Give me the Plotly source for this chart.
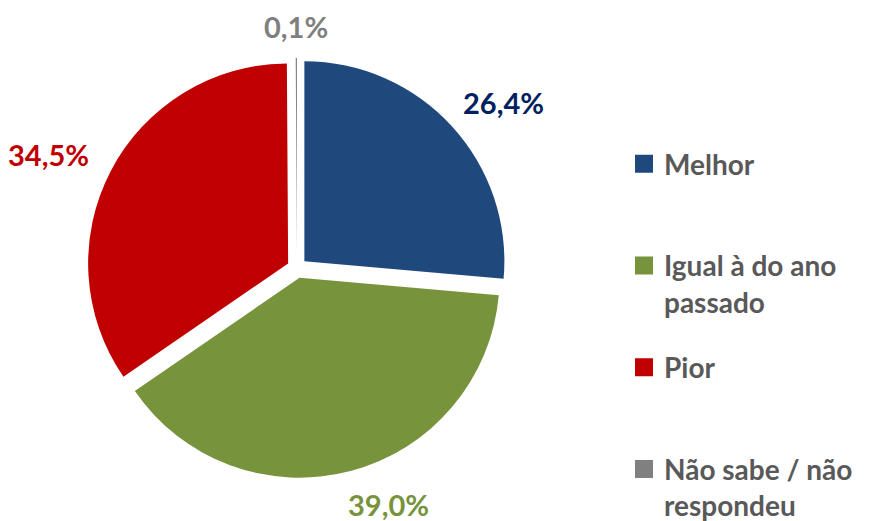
import math

import plotly.graph_objects as go

# data
labels = ["Melhor", "Igual à do ano passado", "Pior", "Não sabe / não respondeu"]
legend_names = ["Melhor<br> ", "Igual à do ano<br>passado", "Pior<br> ", "Não sabe / não<br>respondeu"]
values = [26.4, 39.0, 34.5, 0.1]
text_labels = ["26,4%", "39,0%", "34,5%", "0,1%"]

slice_colors = ["#1F497D", "#77933C", "#C00000", "#808080"]
label_colors = ["#002060", "#77933C", "#C00000", "#7F7F7F"]

# the page body has an 8px margin, so the figure is made 8px smaller
# and every screen position is taken relative to (8, 8)
OFF = 8
W, H = 870 - OFF, 521 - OFF


def to_paper(sx, sy):
    return (sx - OFF) / W, 1 - (sy - OFF) / H


cx, cy = 297, 268       # pie centre on screen
R = 200                 # pie radius in pixels
pull = 0.05
half = R * (1 + pull)
lab_rx, lab_ry = 280, 245      # label ellipse around the centre
lab_dx = [0, 20, 0, 0]         # small nudges, px
lab_dy = [0, 0, 0, 3]

font_family = "Lato, 'Open Sans', sans-serif"

fig = go.Figure()

x0, y1 = to_paper(cx - half, cy - half)
x1, y0 = to_paper(cx + half, cy + half)
fig.add_trace(go.Pie(
    labels=labels,
    values=values,
    sort=False,
    direction="clockwise",
    rotation=0,
    pull=[pull] * len(values),
    marker=dict(colors=slice_colors),
    textinfo="none",
    hoverinfo="label+percent",
    showlegend=False,
    domain=dict(x=[x0, x1], y=[y0, y1]),
))

# legend entries as dummy traces so the spacing can be controlled
for i, (name, c) in enumerate(zip(legend_names, slice_colors)):
    fig.add_trace(go.Scatter(
        x=[None], y=[None], mode="markers", name=name,
        legendgroup=str(i),
        marker=dict(symbol="square", size=16, color=c, line=dict(color=c, width=2)),
    ))

# percentage labels placed along each slice's mid angle
total = sum(values)
cum = 0
for v, t, col, dx, dy in zip(values, text_labels, label_colors, lab_dx, lab_dy):
    mid = (cum + v / 2) / total * 2 * math.pi
    cum += v
    ax, ay = to_paper(cx + lab_rx * math.sin(mid) + dx, cy - lab_ry * math.cos(mid) + dy)
    fig.add_annotation(
        x=ax, y=ay, xref="paper", yref="paper",
        text=t, showarrow=False, xanchor="center", yanchor="middle",
        font=dict(family=font_family, size=29, color=col, weight="bold"),
    )

lx, ly = to_paper(624, 139)
fig.update_layout(
    width=W, height=H,
    margin=dict(l=0, r=0, t=0, b=0, autoexpand=False),
    paper_bgcolor="white",
    plot_bgcolor="white",
    xaxis=dict(visible=False),
    yaxis=dict(visible=False),
    legend=dict(
        x=lx, y=ly, xanchor="left", yanchor="top",
        valign="top",
        tracegroupgap=26,
        font=dict(family=font_family, size=28, color="#595959", weight="bold"),
        bgcolor="rgba(0,0,0,0)",
    ),
)

fig.write_html("out.html")
